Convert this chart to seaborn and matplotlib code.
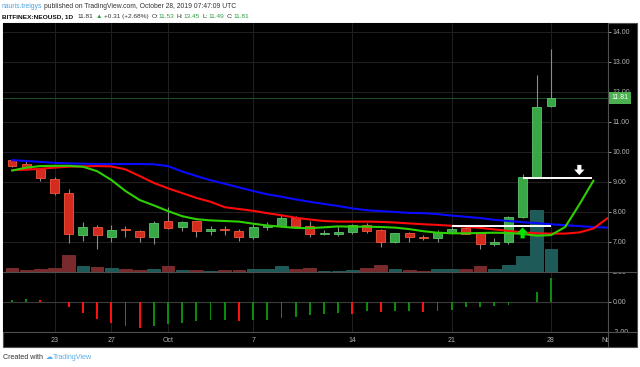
import numpy as np
import pandas as pd
import matplotlib
matplotlib.use("Agg")
import matplotlib.pyplot as plt
import matplotlib.dates as mdates
from matplotlib.patches import Rectangle
from matplotlib.lines import Line2D
from matplotlib.transforms import Bbox, blended_transform_factory
import seaborn as sns

# ---------------- data ----------------
start_date = "2019-09-20"
open_ = [9.74, 9.59, 9.42, 9.11, 8.63, 7.22, 7.51, 7.18, 7.41, 7.37,
         7.18, 7.69, 7.51, 7.69, 7.38, 7.41, 7.38, 7.16, 7.49, 7.53,
         7.79, 7.54, 7.26, 7.26, 7.32, 7.57, 7.40, 7.01, 7.29, 7.18,
         7.13, 7.31, 7.46, 7.29, 6.93, 7.01, 7.83, 9.16, 11.53]
high = [9.76, 9.69, 9.44, 9.18, 8.76, 7.66, 7.57, 7.57, 7.53, 7.41,
        7.71, 8.18, 7.70, 7.70, 7.53, 7.53, 7.42, 7.59, 7.67, 7.92,
        7.85, 7.70, 7.40, 7.53, 7.60, 7.62, 7.42, 7.30, 7.34, 7.22,
        7.40, 7.50, 7.52, 7.30, 7.13, 7.88, 9.27, 12.56, 13.45]
low = [9.50, 9.40, 9.04, 8.56, 6.98, 7.04, 6.76, 7.01, 7.18, 6.99,
       6.92, 7.44, 7.38, 7.18, 7.23, 7.23, 7.03, 7.10, 7.40, 7.50,
       7.46, 7.16, 7.23, 7.20, 7.28, 7.29, 6.84, 6.95, 7.01, 7.08,
       7.01, 7.25, 7.26, 6.76, 6.85, 6.93, 7.80, 9.14, 11.49]
close = [9.53, 9.42, 9.12, 8.64, 7.27, 7.51, 7.22, 7.40, 7.39, 7.18,
         7.64, 7.48, 7.67, 7.37, 7.39, 7.39, 7.18, 7.49, 7.56, 7.80,
         7.53, 7.26, 7.28, 7.34, 7.57, 7.38, 7.01, 7.29, 7.18, 7.13,
         7.34, 7.42, 7.27, 6.93, 7.01, 7.83, 9.16, 11.50, 11.81]
volume_k = [37, 17, 27, 43, 170, 57, 47, 43, 30, 20,
            30, 57, 23, 23, 13, 20, 23, 30, 27, 57,
            30, 37, 15, 15, 20, 37, 67, 30, 20, 15,
            35, 27, 27, 63, 27, 67, 157, 617, 227]
oscillator = [0.11, 0.20, 0.15, 0.00, -0.33, -0.73, -1.13, -1.40, -1.62, -1.71,
              -1.62, -1.44, -1.38, -1.29, -1.22, -1.20, -1.27, -1.22, -1.18, -1.04,
              -0.98, -0.87, -0.80, -0.75, -0.80, -0.62, -0.67, -0.63, -0.60, -0.65,
              -0.62, -0.50, -0.36, -0.33, -0.29, -0.20, -0.03, 0.65, 1.60]
# Alligator lines (shifted forward, so they run past the last candle)
jaw = [9.73, 9.70, 9.67, 9.64, 9.62, 9.61, 9.60, 9.60, 9.60, 9.60,
       9.59, 9.53, 9.35, 9.20, 9.06, 8.94, 8.82, 8.70, 8.59, 8.51,
       8.42, 8.34, 8.27, 8.20, 8.12, 8.06, 8.03, 8.00, 7.97, 7.96,
       7.93, 7.88, 7.84, 7.80, 7.74, 7.70, 7.66, 7.63, 7.59, 7.56,
       7.53, 7.50, 7.48]
teeth = [9.40, 9.41, 9.44, 9.48, 9.51, 9.52, 9.53, 9.52, 9.42, 9.20,
         8.97, 8.79, 8.63, 8.47, 8.34, 8.16, 8.10, 8.04, 7.96, 7.89,
         7.81, 7.75, 7.70, 7.68, 7.68, 7.68, 7.67, 7.65, 7.62, 7.59,
         7.57, 7.54, 7.51, 7.47, 7.42, 7.37, 7.32, 7.29, 7.28, 7.28,
         7.32, 7.45, 7.80]
lips = [9.38, 9.48, 9.53, 9.54, 9.54, 9.51, 9.36, 9.07, 8.70, 8.40,
        8.22, 8.03, 7.86, 7.76, 7.72, 7.70, 7.68, 7.61, 7.55, 7.51,
        7.47, 7.46, 7.49, 7.52, 7.51, 7.51, 7.50, 7.48, 7.43, 7.36,
        7.31, 7.29, 7.29, 7.30, 7.31, 7.30, 7.27, 7.21, 7.23, 7.50,
        8.25, 9.05]
price_ticks = [7, 8, 9, 10, 11, 12, 13, 14]
osc_ticks = [-2, 0, 2]
date_ticks = ["2019-09-23", "2019-09-27", "2019-10-01", "2019-10-07",
              "2019-10-14", "2019-10-21", "2019-10-28", "2019-11-01"]
date_labels = ["23", "27", "Oct", "7", "14", "21", "28", "Nov"]
# drawn annotations (level, from, to)
hlines_drawn = [(7.54, "2019-10-21 00:00", "2019-10-28 00:00"),
                (9.14, "2019-10-26 00:00", "2019-10-30 21:00")]
arrows_drawn = [("2019-10-30", 9.57, 9.23, "white"),
                ("2019-10-26", 7.12, 7.49, "#00e600")]

dates = pd.date_range(start_date, periods=len(close), freq="D")
line_dates = pd.date_range(start_date, periods=len(jaw), freq="D")

# ---------------- style ----------------
sns.set_style("dark")
plt.rcParams["font.family"] = ["Liberation Sans", "DejaVu Sans"]
plt.rcParams["patch.force_edgecolor"] = False
W, H = 640, 367
fig = plt.figure(figsize=(W / 100, H / 100), dpi=100, facecolor="white")

def fx(px):
    return px / W

def fy(py):
    return 1 - py / H

GRID = "#1f1f1f"
BORDER = "#505050"
TICKC = "#b4b4b4"
UP, UP_E = "#38a847", "#5cc468"
DN, DN_E = "#d42a1f", "#f0583a"
WICK = "#8c8c8c"

# black chart background and separators
fig.patches.append(Rectangle((fx(3), fy(347)), fx(634), 324 / H, transform=fig.transFigure,
                             facecolor="black", edgecolor=BORDER, lw=0.8, zorder=-10))

ax = fig.add_axes([fx(3), fy(272), fx(605), 249 / H])
ax2 = fig.add_axes([fx(3), fy(332), fx(605), 60 / H], sharex=ax)
for a in (ax, ax2):
    a.set_facecolor("black")
    for s in a.spines.values():
        s.set_visible(False)

x0 = mdates.date2num(dates[0])
XLIM = (x0 - 0.634, x0 + 42.02)
ax.set_xlim(*XLIM)
ax.set_ylim(6.0, 14.3)
ax2.set_ylim(-2.0, 2.0)

tick_pos = pd.to_datetime(date_ticks)
ax.set_xticks(tick_pos)
ax.set_yticks(price_ticks)
ax.set_yticklabels([f"{v:.2f}" for v in price_ticks])
ax.yaxis.tick_right()
ax.tick_params(axis="y", colors=TICKC, labelsize=5, length=2, width=0.6, pad=1.5)
ax.tick_params(axis="x", length=0, labelbottom=False)
ax.grid(True, color=GRID, lw=0.8)
ax.set_axisbelow(True)

ax2.set_yticks(osc_ticks)
ax2.set_yticklabels([f"{v:.2f}" for v in osc_ticks])
ax2.yaxis.tick_right()
ax2.tick_params(axis="y", colors=TICKC, labelsize=5, length=2, width=0.6, pad=1.5)
ax2.set_xticks(tick_pos)
ax2.set_xticklabels(date_labels)
ax2.tick_params(axis="x", colors=TICKC, labelsize=5, length=0, pad=3.6)
ax2.grid(True, color=GRID, lw=0.8)
ax2.axhline(0, color="#3a3a3a", lw=0.8, zorder=0.6)
ax2.set_axisbelow(True)

# ---------------- volume overlay ----------------
VOL_TOP = 2490
up = np.array(close) >= np.array(open_)
vol_col = np.where(up, "#1d5a58", "#7a2a2c")
vol_edge = np.where(up, "#2a6e6b", "#8e3537")
vtrans = blended_transform_factory(ax.transData, ax.transAxes)
ax.bar(dates, np.array(volume_k) / VOL_TOP, width=0.9, bottom=0, color=vol_col,
       edgecolor=vol_edge, lw=0.5, transform=vtrans, zorder=1)

# last price line
ax.axhline(close[-1], color="#1c4d2a", lw=0.8, zorder=1.5)

# ---------------- candles ----------------
o = np.array(open_)
c = np.array(close)
body_lo = np.minimum(o, c)
body_h = np.maximum(np.abs(c - o), 0.04)
ax.vlines(dates, low, high, color=WICK, lw=0.8, zorder=3)
ax.bar(dates, body_h, bottom=body_lo, width=0.63,
       color=np.where(up, UP, DN), edgecolor=np.where(up, UP_E, DN_E), lw=0.6, zorder=4)

# ---------------- alligator (seaborn) ----------------
frames = []
for name, vals in (("Jaw", jaw), ("Teeth", teeth), ("Lips", lips)):
    frames.append(pd.DataFrame({"date": line_dates[:len(vals)], "value": vals, "line": name}))
lines_df = pd.concat(frames, ignore_index=True)
sns.lineplot(data=lines_df, x="date", y="value", hue="line",
             palette={"Jaw": "#0a0aff", "Teeth": "#ff0a0a", "Lips": "#2ed000"},
             hue_order=["Jaw", "Teeth", "Lips"], linewidth=1.5, legend=False,
             ax=ax, zorder=5)
ax.set_xlabel("")
ax.set_ylabel("")
ax.set_xlim(*XLIM)
ax.set_ylim(6.0, 14.3)

# drawn annotations
for lvl, d0, d1 in hlines_drawn:
    ax.hlines(lvl, pd.Timestamp(d0), pd.Timestamp(d1), color="white", lw=1.4, zorder=6)
for d, y0, y1, col in arrows_drawn:
    ax.annotate("", xy=(pd.Timestamp(d), y1), xytext=(pd.Timestamp(d), y0),
                arrowprops=dict(arrowstyle="simple,head_length=0.4,head_width=0.75,tail_width=0.3",
                                color=col, lw=0, shrinkA=0, shrinkB=0, mutation_scale=10), zorder=7)

# price label box
ax.text(1.0 + 3.5 / 605, close[-1], f"{close[-1]:.2f}", transform=blended_transform_factory(ax.transAxes, ax.transData),
        ha="left", va="center", color="white", fontsize=5,
        bbox=dict(boxstyle="square,pad=0.35", fc="#4caf50", ec="none"), clip_on=False, zorder=10)

# ---------------- oscillator histogram ----------------
osc = np.array(oscillator)
prev = np.concatenate([[-np.inf], osc[:-1]])
osc_col = np.where(osc >= prev, "#0c8a0c", "#ff1010")
ax2.bar(dates, osc, width=0.13, color=osc_col, edgecolor="none", lw=0, zorder=3)
ax2.set_ylim(-2.0, 2.0)
ax2.set_xlim(*XLIM)

# separators on top
for (xa, ya, xb, yb) in [(3, 272, 637, 272), (3, 332, 637, 332), (608, 23, 608, 347)]:
    fig.add_artist(Line2D([fx(xa), fx(xb)], [fy(ya), fy(yb)], transform=fig.transFigure,
                          color=BORDER, lw=0.8, zorder=20))

# ---------------- header / footer text ----------------
renderer = fig.canvas.get_renderer()

def place_segments(y_px, x0_px, segs, size, right_px=None):
    def _place(sz):
        arts, x = [], x0_px
        for s, col, wt, gap in segs:
            x += gap * sz * 100 / 72
            t = fig.text(x / W, fy(y_px), s, color=col, fontsize=sz, fontweight=wt,
                         ha="left", va="center", family=["Liberation Sans", "DejaVu Sans"])
            x = t.get_window_extent(renderer).x1
            arts.append(t)
        return arts, x
    arts, xr = _place(size)
    if right_px is not None:
        for a_ in arts:
            a_.remove()
        size = size * (right_px - x0_px) / (xr - x0_px)
        arts, xr = _place(size)
    return arts

GRN = "#2f9e3f"
TXT = "#333333"
place_segments(6.5, 2, [("nauris.treigys", "#4ea3dc", "normal", 0),
                        ("published on TradingView.com, October 28, 2019 07:47:09 UTC", TXT, "normal", 0.28)],
               5.0, 238)
place_segments(16.5, 2, [("BITFINEX:NEOUSD, 1D", "#111111", "bold", 0),
                         ("11.81", TXT, "normal", 0.7),
                         ("\u25b2", GRN, "normal", 0.3),
                         ("+0.31 (+2.68%)", TXT, "normal", 0.3),
                         ("O:", TXT, "normal", 0.5), ("11.53", GRN, "normal", 0.05),
                         ("H:", TXT, "normal", 0.4), ("13.45", GRN, "normal", 0.05),
                         ("L:", TXT, "normal", 0.4), ("11.49", GRN, "normal", 0.05),
                         ("C:", TXT, "normal", 0.4), ("11.81", GRN, "normal", 0.05)],
               5.0, 251)
place_segments(357.5, 3, [("Created with", TXT, "normal", 0),
                          ("\u2601", "#5aaee6", "normal", 0.3),
                          ("TradingView", "#5aaee6", "normal", 0.1)],
               5.0, 94)

# clip date labels at the price-scale border and oscillator labels to their pane
fig.canvas.draw()
for lab in ax2.get_xticklabels():
    lab.set_clip_on(True)
    lab.set_clip_box(Bbox.from_extents(3, 0, 608, H))
for lab in ax2.get_yticklabels():
    lab.set_clip_on(True)
    lab.set_clip_box(Bbox.from_extents(608, H - 332, 640, H - 272))

fig.savefig("out.png", dpi=100, facecolor="white")
